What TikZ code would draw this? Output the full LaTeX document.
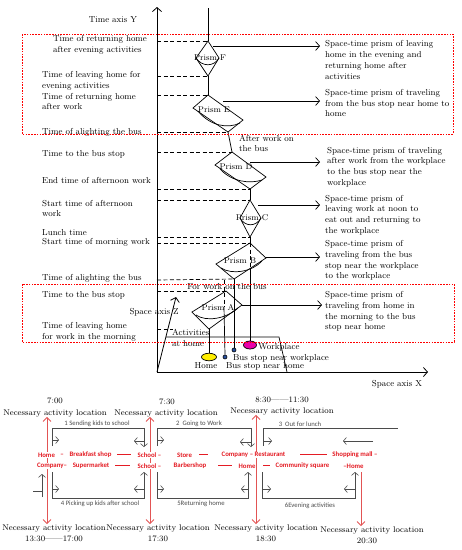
\documentclass[tikz,border=0pt]{standalone}
\usepackage{fontspec}
\newfontfamily\carlito{Carlito}
\usepackage{xcolor}
\usetikzlibrary{shapes.geometric, arrows.meta, positioning}
\definecolor{routered}{RGB}{228,28,36}
\definecolor{linkred}{RGB}{226,84,84}
\definecolor{routegray}{RGB}{75,75,75}
\definecolor{homeyellow}{RGB}{255,238,0}
\definecolor{workpink}{RGB}{235,0,170}
\definecolor{stopblue}{RGB}{40,80,160}
\newcommand{\linkdash}[1]{\rule[2pt]{#1}{0.8pt}}

\begin{document}
\begin{tikzpicture}[x=1pt, y=-1pt,
  every node/.style={inner sep=0pt},
  tlabel/.style={font=\fontsize{8.7}{10.7}\selectfont, align=left, anchor=west},
  plabel/.style={font=\fontsize{8.4}{10}\selectfont},
  when/.style={font=\fontsize{8.3}{10}\selectfont},
  prism/.style={draw, line width=0.7pt},
  guide/.style={dashed, dash pattern=on 4pt off 2.5pt, line width=0.7pt},
  redbox/.style={draw=red, dash pattern=on 1.6pt off 1.2pt, line width=0.8pt},
  arr/.style={-{Straight Barb[length=4pt, width=9pt]}, line width=0.7pt},
  axis/.style={-{Straight Barb[length=4pt, width=9pt]}, line width=0.8pt},
  route/.style={draw=routegray, line width=0.6pt},
  rtip/.style={route, -{Straight Barb[length=3pt, width=7pt]}},
  redlink/.style={draw=linkred, line width=0.8pt},
  stop/.style={text=routered, font=\carlito\bfseries\fontsize{6.8}{8}\selectfont, fill=white, inner sep=0.6pt},
  loopname/.style={text=routegray, font=\carlito\fontsize{6.7}{8}\selectfont},
]
  \useasboundingbox (0,0) rectangle (462,550);

  % Axes and base plane
  \coordinate (O) at (157,372);
  \coordinate (ytip) at (157,7);
  \coordinate (xtip) at (428,372);
  \coordinate (ztip) at (176,297);
  \draw[axis] (O) -- (ytip);
  \draw[axis] (O) -- (xtip);
  \draw[axis] (O) -- (ztip);
  \draw[line width=0.7pt] (166,337) -- (279,337) -- (287,372);
  \node[tlabel, anchor=center] (ylbl) at (113,20) {Time axis Y};
  \node[tlabel, anchor=center] (xlbl) at (397,384) {Space axis X};
  \node[tlabel, anchor=center] (zlbl) at (154,312) {Space axis Z};

  % Prism corners
  \coordinate (Ft) at (208,41);  \coordinate (Fr) at (219,58);
  \coordinate (Fb) at (208,76);  \coordinate (Fl) at (196,58);
  \coordinate (Et) at (208,95);  \coordinate (Er) at (243,120);
  \coordinate (Eb) at (228,132); \coordinate (El) at (193,108);
  \coordinate (Dt) at (232,152); \coordinate (Dr) at (266,177);
  \coordinate (Db) at (250,189); \coordinate (Dl) at (215,165);
  \coordinate (Ct) at (250,200); \coordinate (Cr) at (261,218);
  \coordinate (Cb) at (250,237); \coordinate (Cl) at (240,218);
  \coordinate (Bt) at (250,243); \coordinate (Br) at (266,258);
  \coordinate (Bb) at (234,279); \coordinate (Bl) at (216,264);
  \coordinate (At) at (226,291); \coordinate (Ar) at (242,305);
  \coordinate (Ab) at (209,329); \coordinate (Al) at (192,312);

  % Prisms
  \draw[prism] (Ft) -- (Fr) -- (Fb) -- (Fl) -- cycle;
  \draw[prism] (Et) -- (Er) -- (Eb) -- (El) -- cycle;
  \draw[prism] (Dt) -- (Dr) -- (Db) -- (Dl) -- cycle;
  \draw[prism] (Ct) -- (Cr) -- (Cb) -- (Cl) -- cycle;
  \draw[prism] (Bt) -- (Br) -- (Bb) -- (Bl) -- cycle;
  \draw[prism] (At) -- (Ar) -- (Ab) -- (Al) -- cycle;
  \draw[prism] (Fl) .. controls (202,67) and (214,67) .. (Fr);
  \draw[prism] (198,111) .. controls (210,126) and (228,129) .. (240,123);
  \draw[prism] (220,169) .. controls (232,182) and (250,184) .. (262,180);
  \draw[prism] (Cl) .. controls (245,227) and (256,227) .. (Cr);
  \draw[prism] (262,261) .. controls (252,272) and (232,275) .. (221,268);
  \draw[prism] (238,308) .. controls (226,319) and (206,322) .. (196,315);
  \node[plabel] (pF) at (210,58) {Prism F};
  \node[plabel] (pE) at (214,110) {Prism E};
  \node[plabel] (pD) at (236,167) {Prism D};
  \node[plabel] (pC) at (252,218) {Prism C};
  \node[plabel] (pB) at (240,261) {Prism B};
  \node[plabel] (pA) at (218,308) {Prism A};

  % Path through the prisms
  \draw[prism] (208,8) -- (Ft);
  \draw[prism] (Fb) -- (Et);
  \draw[prism] (Eb) -- (Dt);
  \draw[prism] (Db) -- (Ct);
  \draw[prism] (Cb) -- (Bt);
  \draw[guide] (Bt) -- (250,268);

  % Places on the plane
  \node[ellipse, draw, line width=0.7pt, fill=homeyellow, minimum width=15pt, minimum height=7.5pt] (home) at (209,357) {};
  \node[circle, draw, line width=0.6pt, fill=stopblue, minimum size=4pt] (stophome) at (225,357) {};
  \node[circle, draw, line width=0.6pt, fill=stopblue, minimum size=4pt] (stopwork) at (234,350) {};
  \node[ellipse, draw, line width=0.7pt, fill=workpink, minimum width=13pt, minimum height=8pt] (work) at (250,345) {};
  \node[tlabel, anchor=center] (homelbl) at (206,366) {Home};
  \node[tlabel, anchor=center] (stophomelbl) at (265,366) {Bus stop near home};
  \node[tlabel, anchor=center] (stopworklbl) at (281,358) {Bus stop near workplace};
  \node[tlabel, anchor=center] (worklbl) at (279,347) {Workplace};
  \draw[prism] (Ab) -- (home.north);
  \draw[guide] (224,280) -- (224,307);
  \draw[prism] (224,307) -- (stophome.north);
  \draw[prism] (Bb) -- (stopwork.north);
  \draw[prism] (250,268) -- (work.north);

  % Time marks
  \draw[guide] (Ft -| O) -- (Ft);
  \draw[guide] (Fb -| O) -- (Fb);
  \draw[guide] (Et -| O) -- (Et);
  \draw[guide] (Eb -| O) -- (Eb);
  \draw[guide] (Dt -| O) -- (Dt);
  \draw[guide] (Db -| O) -- (Db);
  \draw[guide] (Ct -| O) -- (Ct);
  \draw[guide] (Cb -| O) -- (Cb);
  \draw[guide] (Bt -| O) -- (Bt);
  \draw[guide] (157,280) -- (Bb);
  \draw[guide] (At -| O) -- (At);
  \draw[guide] (Ab -| O) -- (173,329);

  \node[tlabel] (t1) at (53,44.5) {Time of returning home\\after evening activities};
  \node[tlabel] (t2) at (42,80.5) {Time of leaving home for\\evening activities};
  \node[tlabel] (t3) at (42,101.5) {Time of returning home\\after work};
  \node[tlabel] (t4) at (42,132) {Time of alighting the bus};
  \node[tlabel] (t5) at (42,154) {Time to the bus stop};
  \node[tlabel] (t6) at (42,180) {End time of afternoon work};
  \node[tlabel] (t7) at (42,208.5) {Start time of afternoon\\work};
  \node[tlabel] (t8) at (42,232.5) {Lunch time};
  \node[tlabel] (t9) at (42,242) {Start time of morning work};
  \node[tlabel] (t10) at (42,278) {Time of alighting the bus};
  \node[tlabel] (t11) at (42,295) {Time to the bus stop};
  \node[tlabel] (t12) at (42,332) {Time of leaving home\\for work in the morning};

  \node[tlabel] (busE) at (239,143.5) {After work on\\the bus};
  \node[tlabel, anchor=center] (busA) at (227,287) {For work on the bus};
  \node[tlabel] (athome) at (172,338) {Activities\\at home};

  % Prism descriptions
  \node[tlabel] (dF) at (325,60) {Space-time prism of leaving\\home in the evening and\\returning home after\\activities};
  \node[tlabel] (dE) at (325,103) {Space-time prism of traveling\\from the bus stop near home to\\home};
  \node[tlabel] (dD) at (327,167) {Space-time prism of traveling\\after work from the workplace\\to the bus stop near the\\workplace};
  \node[tlabel] (dC) at (325,215) {Space-time prism of\\leaving work at noon to\\eat out and returning to\\the workplace};
  \node[tlabel] (dB) at (325,260.5) {Space-time prism of\\traveling from the bus\\stop near the workplace\\to the workplace};
  \node[tlabel] (dA) at (325,311.5) {Space-time prism of\\traveling from home in\\the morning to the bus\\stop near home};

  \coordinate (oF) at (213,46);
  \coordinate (oE) at (223,101);
  \coordinate (oD) at (250,162);
  \coordinate (oC) at (258,205);
  \coordinate (oB) at (266,257);
  \draw[arr, shorten >=5pt] (oF) -- (oF -| dF.west);
  \draw[arr, shorten >=5pt] (oE) -- (oE -| dE.west);
  \draw[arr, shorten >=7pt] (oD) -- (oD -| dD.west);
  \draw[arr, shorten >=5pt] (oC) -- (oC -| dC.west);
  \draw[arr, shorten >=5pt] (oB) -- (oB -| dB.west);
  \draw[arr, shorten >=3pt] (Ar) -- (Ar -| dA.west);

  % Highlighted groups
  \draw[redbox] (22,34) rectangle (453,134);
  \draw[redbox] (22,284) rectangle (454,342);

  % Daily routes
  \node[when] (w1) at (55,401) {7:00};
  \node[when] (n1) at (55,413) {Necessary activity location};
  \node[when] (w2) at (167,402) {7:30};
  \node[when] (n2) at (166,413) {Necessary activity location};
  \node[when] (w3) at (282,400) {8:30——11:30};
  \node[when] (n3) at (282,411) {Necessary activity location};
  \node[when] (n4) at (54,528) {Necessary activity location};
  \node[when] (w4) at (54,539) {13:30——17:00};
  \node[when] (n5) at (158,528) {Necessary activity location};
  \node[when] (w5) at (158,539) {17:30};
  \node[when] (n6) at (266,528) {Necessary activity location};
  \node[when] (w6) at (266,539) {18:30};
  \node[when] (n7) at (372,530) {Necessary activity location};
  \node[when] (w7) at (367,541) {20:30};

  \coordinate (r1) at (47,0);
  \coordinate (r2) at (150,0);
  \coordinate (r3) at (256,0);
  \coordinate (r4) at (361,0);
  \draw[redlink, {Straight Barb[length=4pt, width=8pt]}-{Straight Barb[length=4pt, width=8pt]}] (r1 |- n1.south) -- (r1 |- n4.north);
  \draw[redlink, {Straight Barb[length=4pt, width=8pt]}-{Straight Barb[length=4pt, width=8pt]}] (r2 |- n2.south) -- (r2 |- n5.north);
  \draw[redlink, {Straight Barb[length=4pt, width=8pt]}-{Straight Barb[length=4pt, width=8pt]}] (r3 |- n3.south) -- (r3 |- n6.north);
  \draw[redlink, -{Straight Barb[length=4pt, width=8pt]}] (r4 |- 0,472) -- (r4 |- n7.north);

  \draw[rtip] (52,446) |- (144,428) -- (144,447);
  \draw[rtip] (52,440) -- (59,440);
  \draw[rtip] (144,441) -- (134,441);
  \draw[rtip] (157,446) |- (251,428) -- (251,447);
  \draw[rtip] (157,440) -- (164,440);
  \draw[rtip] (251,442) -- (240,442);
  \draw[route] (263,446) |- (398,428);
  \draw[rtip] (263,441) -- (272,441);
  \draw[rtip] (373,441) -- (343,441);
  \draw[rtip] (52,472) |- (144,498) -- (144,472);
  \draw[rtip] (52,489) -- (59,489);
  \draw[rtip] (144,489) -- (134,489);
  \draw[rtip] (42,497) -- (42,474);
  \draw[route] (33,491) -- (42,491);
  \draw[rtip] (157,472) |- (248,498) -- (248,472);
  \draw[rtip] (157,489) -- (164,489);
  \draw[rtip] (248,489) -- (241,489);
  \draw[rtip] (262,472) |- (355,498) -- (355,472);
  \draw[rtip] (262,489) -- (271,489);
  \draw[rtip] (355,489) -- (344,489);

  \node[loopname] (l1) at (97,424) {1 Sending kids to school};
  \node[loopname] (l2) at (199,424) {2\ \ Going to Work};
  \node[loopname] (l3) at (300,424) {3\ \ Out for lunch};
  \node[loopname] (l4) at (100,504) {4 Picking up kids after school};
  \node[loopname] (l5) at (201,504) {5Returning home};
  \node[loopname] (l6) at (310,506) {6Evening activities};

  % Stops along the routes
  \node[stop] (s1) at (46.5,455) {Home};
  \node[stop] (s2) at (62,455) {–};
  \node[stop] (s3) at (90.5,455) {Breakfast shop};
  \node[stop] (s4) at (124,455) {\linkdash{14pt}};
  \node[stop] (s5) at (149.5,455) {School –};
  \node[stop] (s6) at (184.5,455) {Store};
  \node[stop] (s7) at (203.5,455) {\linkdash{9pt}};
  \node[stop] (s8) at (253.5,455) {Company – Restaurant};
  \node[stop] (s9) at (313.5,455) {\linkdash{27pt}};
  \node[stop] (s10) at (355,455) {Shopping mall –};
  \node[stop] (s11) at (52,466) {Company–};
  \node[stop] (s12) at (91,466) {Supermarket};
  \node[stop] (s13) at (122.5,466) {\linkdash{15pt}};
  \node[stop] (s14) at (149.5,466) {School –};
  \node[stop] (s15) at (190,466) {Barbershop};
  \node[stop] (s16) at (225,466) {\linkdash{14pt}};
  \node[stop] (s17) at (247,466) {Home};
  \node[stop] (s18) at (266.5,466) {\linkdash{7pt}};
  \node[stop] (s19) at (302.5,466) {Community square};
  \node[stop] (s20) at (353.5,466) {–Home};
\end{tikzpicture}
\end{document}
